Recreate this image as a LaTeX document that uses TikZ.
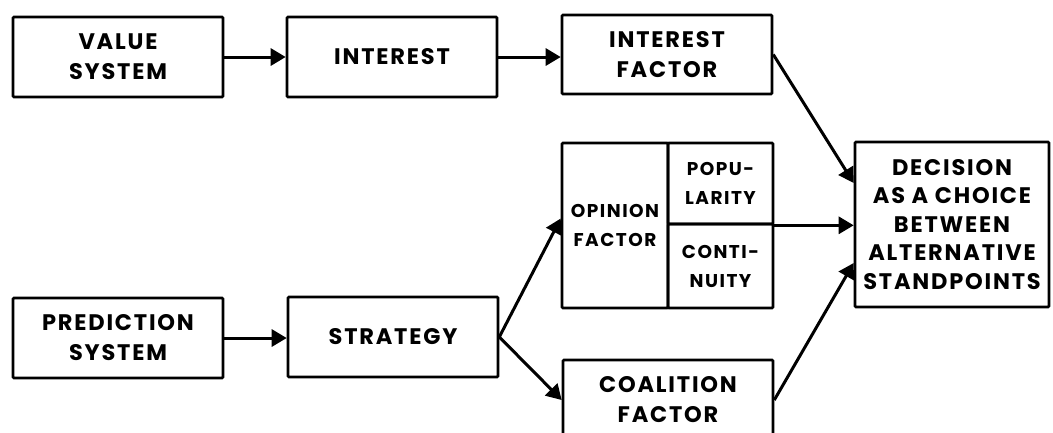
\documentclass[tikz,border=0pt]{standalone}
\usepackage{fontspec}
\setmainfont{Poppins}[LetterSpace=8]
\usetikzlibrary{arrows.meta,calc}
\begin{document}
\begin{tikzpicture}[x=1pt,y=-1pt,
  box/.style={draw, line width=2.6pt, rounded corners=1pt, align=center,
    inner sep=0pt, font=\fontsize{22.5}{30}\selectfont\bfseries},
  smallbox/.style={box, font=\fontsize{18.5}{29}\selectfont\bfseries},
  flow/.style={line width=3pt, -{Triangle[length=15pt,width=17pt]}}]
\useasboundingbox (0,0) rectangle (1053,432);
\fill[white] (0,0) rectangle (1053,432);
\clip (0,0) rectangle (1053,432);

% upper chain
\node[box, minimum width=210pt, minimum height=80pt] (value) at (118,57) {VALUE\\SYSTEM};
\node[box, minimum width=210pt, minimum height=80pt] (interest) at (392,57) {INTEREST};
\node[box, minimum width=210pt, minimum height=79pt] (ifactor) at (667,54.5) {INTEREST\\FACTOR};

% opinion factor block with its two sub-cells
\node[smallbox, minimum width=106pt, minimum height=165pt] (opin) at (615,225.5) {OPINION\\FACTOR};
\node[smallbox, minimum width=105pt, minimum height=81pt] (popu) at (720.5,183.5) {POPU-\\LARITY};
\node[smallbox, minimum width=105pt, minimum height=84pt] (conti) at (720.5,266) {CONTI-\\NUITY};

% decision
\node[box, minimum width=194pt, minimum height=165pt, font=\fontsize{22.5}{28.5}\selectfont\bfseries]
  (decision) at (952,224.5)
  {DECISION\\AS A CHOICE\\BETWEEN\\ALTERNATIVE\\STANDPOINTS};

% lower chain
\node[box, minimum width=210pt, minimum height=80pt] (pred) at (118,338) {PREDICTION\\SYSTEM};
\node[box, minimum width=210pt, minimum height=80pt] (strat) at (393,337) {STRATEGY};
\node[box, minimum width=210pt, minimum height=80pt] (coal) at (668,400) {COALITION\\FACTOR};

% connectors
\draw[flow] (value.east) -- (value.east -| interest.west);
\draw[flow] (interest.east) -- (interest.east -| ifactor.west);
\draw[flow] (ifactor.east) -- ($(decision.west)+(0,-41.5)$);
\draw[flow] (popu.south east) -- (popu.south east -| decision.west);
\draw[flow] (coal.east) -- ($(decision.west)+(0,38.5)$);
\draw[flow] (pred.east) -- (pred.east -| strat.west);
\draw[flow] (strat.east) -- ($(opin.west)+(0,-7)$);
\draw[flow] (strat.east) -- (coal.west);
\end{tikzpicture}
\end{document}
